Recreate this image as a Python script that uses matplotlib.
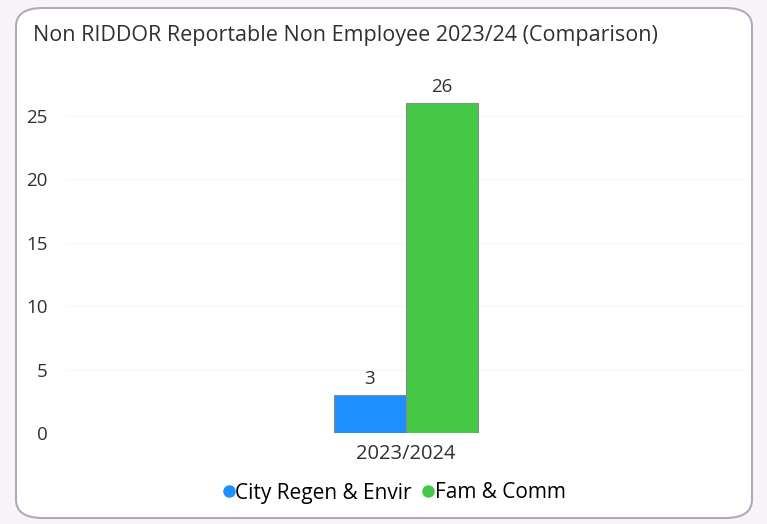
import matplotlib.pyplot as plt
from matplotlib.patches import FancyBboxPatch
from matplotlib.lines import Line2D
import numpy as np

# datos
categorias = ['2023/2024']
series = ['City Regen & Envir', 'Fam & Comm']
valores = [3, 26]
colores = ['#1f8fff', '#45c845']

fig = plt.figure(figsize=(7.67, 5.24), dpi=100)
fig.patch.set_facecolor('#f7f3f9')

# tarjeta blanca con bordes redondeados
tarjeta = FancyBboxPatch((16 / 767, 6 / 524), 736 / 767, 510 / 524,
                         boxstyle='round,pad=0,rounding_size=0.035',
                         transform=fig.transFigure, facecolor='white',
                         edgecolor='#b4a8ba', linewidth=1.5, zorder=-5)
fig.patches.append(tarjeta)

fig.text(33 / 767, 1 - 35 / 524, 'Non RIDDOR Reportable Non Employee 2023/24 (Comparison)',
         fontsize=15.5, family='Open Sans', color='#303030', va='center', ha='left')

ax = fig.add_axes([66 / 767, 1 - 433 / 524, 680 / 767, 349 / 524])
ax.set_facecolor('none')
ax.set_zorder(2)

ancho = 0.212
x = np.arange(len(categorias))
for i, (nombre, val, col) in enumerate(zip(series, valores, colores)):
    pos = x + (i - 0.5) * ancho
    barras = ax.bar(pos, [val], width=ancho, color=col, edgecolor='#8a8a8a',
                    linewidth=0.8, label=nombre, zorder=3)
    ax.bar_label(barras, padding=5, fontsize=13.5, family='Open Sans', color='#303030')

ax.set_xlim(-1, 1)
ax.set_ylim(0, 27.5)
ax.set_yticks([0, 5, 10, 15, 20, 25])
ax.set_xticks(x)
ax.set_xticklabels(categorias)
ax.tick_params(length=0, labelsize=13.5, labelcolor='#303030')
ax.tick_params(axis='x', labelsize=14.5, pad=8)
ax.tick_params(axis='y', pad=13)
for lbl in ax.get_xticklabels() + ax.get_yticklabels():
    lbl.set_family('Open Sans')
ax.yaxis.grid(True, color='#f8f5f6', linewidth=0.8, zorder=0)
for s in ax.spines.values():
    s.set_visible(False)

handles = [Line2D([], [], marker='o', linestyle='', markersize=8, color=c) for c in colores]
fig.legend(handles, series, loc='center', bbox_to_anchor=(391 / 767, 1 - 493 / 524),
           ncol=2, frameon=False, handletextpad=-0.3, columnspacing=0.2,
           handlelength=1.2, prop={'family': 'Open Sans', 'size': 15})

plt.savefig('out.png', dpi=100, facecolor=fig.get_facecolor())
plt.close()
